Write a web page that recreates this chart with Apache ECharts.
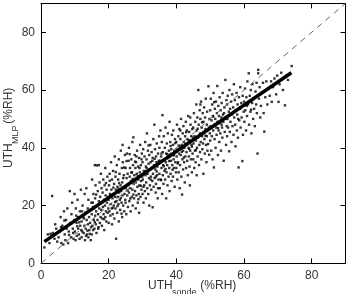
<!DOCTYPE html>
<html>
<head>
<meta charset="utf-8">
<script src="https://cdn.jsdelivr.net/npm/echarts@6/dist/echarts.min.js"></script>
<style>
  html, body { margin: 0; padding: 0; background: #fff; }
  #chart { width: 349px; height: 294px; }
</style>
</head>
<body>
<div id="chart"></div>
<script>
// UTH sonde (x) vs UTH MLP (y), %RH
const points = [
  [1,5.5],[1.5,8],[2,10],[2.5,7],[3,9.5],[3.3,23.3],[3.5,10.5],[4,8.5],[4.5,12],[4.8,7.5],[2.8,10.2],[4.2,13.5],
  [5.2,9],[5.5,11],[5.8,16],[6,7],[6.3,13],[6.6,6.5],[6.8,18],[7,10],[7.2,8],[7.4,15],[7.6,12],[7.8,19],[8,7],[8.2,11],[8.5,25],[8.7,14],[8.9,9],[9,17],[9.2,21],[9.4,12],[9.6,8.5],[9.8,15],[9.9,24],[5.9,12.5],[8.3,9.8],[6.9,14.8],[9.5,10.5],
  [10,11],[10.2,8],[10.3,19],[10.5,14],[10.6,9.5],[10.8,22],[11,12],[11,16],[11.2,10],[11.4,8.5],[11.5,18],[11.6,13],[11.8,25.5],[12,9],[12,14.5],[12.2,11],[12.3,20],[12.5,16],[12.6,10.5],[12.8,13],[12.9,24],[13,8],[13.1,17.5],[13.2,12],[13.4,26],[13.5,15],[13.6,10],[13.8,19],[13.9,13.5],[14,9],[14,22],[14.2,16],[14.3,11.5],[14.5,14],[14.6,18.5],[14.7,8],[14.8,12.5],[14.9,21],[10.7,12.8],[11.3,14.2],[12.1,18],[13.3,9.5],[13.7,11.3],[14.4,10.2],[11.9,11.5],[10.4,16.5],[12.7,15.5],
  [15,10],[15,17],[15.1,29],[15.2,13],[15.3,21],[15.4,11.5],[15.5,24],[15.6,15],[15.7,19],[15.8,12],[15.9,34],[16,16.5],[16,22.5],[16.1,27],[16.2,13.5],[16.3,18],[16.4,10.5],[16.5,33.9],[16.6,20],[16.7,15],[16.8,25],[16.9,17],[17,12.5],[17.1,34],[17.1,21.5],[17.2,19],[17.3,28],[17.4,14],[17.5,23],[17.6,16],[17.7,31],[17.8,18.5],[17.9,26],[18,13],[18,21],[18.1,15.5],[18.2,24.5],[18.3,19.5],[18.4,29],[18.5,17],[18.6,22],[18.7,11.5],[18.8,27],[18.9,20],[19,16],[19,33],[19.1,23.5],[19.2,18],[19.3,14.5],[19.4,25.5],[19.5,21],[19.6,30],[19.7,17.5],[19.8,23],[19.9,19],[15.9,14.2],[16.9,12],[18.6,15.3],[17.6,20.8],[19.2,27.8],[16.3,23.8],[15.4,19.5],
  [20,14],[20,22],[20.1,27],[20.2,18],[20.3,31],[20.4,24],[20.5,16.5],[20.6,20.5],[20.7,35],[20.8,25.5],[20.9,19],[21,29],[21,13.5],[21.1,22.5],[21.2,17],[21.3,32],[21.4,24],[21.5,20],[21.6,27.5],[21.7,15.5],[21.8,37],[21.9,23],[22,19],[22,30],[22.1,25.5],[22.2,8.5],[22.3,21.5],[22.4,34],[22.5,17.5],[22.6,26.5],[22.7,23],[22.8,29],[22.9,20.5],[23,14.5],[23,36],[23.1,24.5],[23.2,31],[23.3,22],[23.4,18.5],[23.5,27],[23.6,39],[23.7,25],[23.8,21],[23.9,33],[24,16],[24,28],[24.1,23.5],[24.2,35],[24.3,20],[24.4,26],[24.5,30.5],[24.6,18],[24.7,24],[24.8,37.5],[24.9,22],[20.6,23.7],[21.4,26.2],[22.6,19.8],[23.6,22.6],[24.3,29.5],[21.9,21.2],[23.1,27.8],[20.3,28.6],[22.9,25.8],[24.6,33.2],[21.2,19.2],[23.8,17.2],[22.1,31.6],[24.1,41],
  [25,21],[25,33],[25.1,26],[25.2,17],[25.3,29.5],[25.4,38],[25.5,23.5],[25.6,31],[25.7,19.5],[25.8,27],[25.9,35.5],[26,24.5],[26,40],[26.1,21.5],[26.2,30],[26.3,33],[26.4,26],[26.5,18],[26.6,28.5],[26.7,36],[26.8,23],[26.9,31.5],[27,25.5],[27,42],[27.1,20],[27.2,34],[27.3,43.6],[27.4,27.5],[27.5,22.5],[27.6,30.5],[27.7,37.5],[27.8,25],[27.9,33],[28,19],[28,28],[28.1,35],[28.2,23.5],[28.3,31],[28.4,39],[28.5,26.5],[28.6,21],[28.7,33.5],[28.8,29],[28.9,24],[29,36.5],[29,17.5],[29.1,27],[29.2,31.5],[29.3,41],[29.4,23],[29.5,34],[29.6,28.5],[29.7,25.5],[29.8,38],[29.9,30],[25.6,25.2],[26.7,31.4],[27.3,23.8],[28.2,37],[29.1,33],[26.2,37.8],[27.8,35.2],[28.8,22.2],[25.3,35.4],[29.5,26.8],[27.1,29.2],[28.6,30.2],[26.4,22.4],[29.7,36],
  [30,24],[30,35],[30.1,29],[30.2,39.5],[30.3,21],[30.4,32],[30.5,27],[30.6,37],[30.7,25],[30.8,42],[30.9,30.5],[31,33.5],[31,22.5],[31.1,28],[31.2,36],[31.3,45],[31.4,26],[31.5,31],[31.6,39],[31.7,24],[31.8,34.5],[31.9,29.5],[32,37.5],[32,20],[32.1,32.5],[32.2,27],[32.3,41],[32.4,35],[32.5,30],[32.6,25.5],[32.7,38.5],[32.8,33],[32.9,28.5],[33,19.4],[33,36.5],[33.1,31],[33.2,43],[33.3,26.5],[33.4,34],[33.5,48],[33.6,29.5],[33.7,39.5],[33.8,32.5],[33.9,24.5],[34,37],[34,27.5],[34.1,35],[34.2,41.5],[34.3,30.5],[34.4,33.5],[34.5,22.5],[34.6,38],[34.7,29],[34.8,35.5],[34.9,44],[31.2,33],[32.4,29],[33.6,36.2],[30.8,31.8],[34.2,31.8],[31.8,40.8],[32.9,35.5],[33.9,30],[30.3,26.5],[34.6,26],
  [35,31],[35,40],[35.1,26],[35.2,35.5],[35.3,46],[35.4,29],[35.5,37],[35.6,33],[35.7,42],[35.9,51.3],[35.8,24],[36,30.5],[36,38.5],[36.1,34],[36.2,27.5],[36.3,44],[36.4,36],[36.5,32],[36.6,40],[36.7,29],[36.8,47],[36.9,35],[37,22.5],[37,38],[37.1,31.5],[37.2,41.5],[37.3,34],[37.4,27],[37.5,45],[37.6,36.5],[37.7,30],[37.8,39],[37.9,33],[38,49],[38,25],[38.1,37],[38.2,42],[38.3,31],[38.4,35.5],[38.5,39.5],[38.6,28.5],[38.7,44.5],[38.8,34],[38.9,37.5],[39,30],[39,41],[39.1,46],[39.2,36],[39.3,33],[39.4,39],[39.5,26.5],[39.6,43],[39.7,35],[39.8,38.5],[39.9,31.5],[36.3,33.6],[37.3,37.8],[38.3,40.6],[39.3,37.4],[35.6,38],[36.8,32.6],[38.9,32.4],[37.9,35.4],[39.7,41.6],[35.5,28.8],
  [40,33],[40,42],[40.1,37],[40.2,48],[40.3,29],[40.4,39.5],[40.5,35],[40.6,44],[40.7,31.5],[40.8,38],[40.9,46.5],[41,26],[41,40.5],[41.1,34],[41.2,43],[41.3,37.5],[41.4,50],[41.5,30],[41.6,41],[41.7,23.8],[41.8,36],[41.9,45],[42,39],[42,32.5],[42.1,47.5],[42.2,42],[42.3,35],[42.4,40],[42.5,28],[42.6,44],[42.7,37],[42.8,49],[42.9,33],[43,41.5],[43,38.5],[43.1,46],[43.2,35.5],[43.3,43],[43.4,30.5],[43.5,51],[43.6,40],[43.7,37],[43.8,45.5],[43.9,33.5],[44,42.5],[44,27],[44.1,39],[44.2,48],[44.3,36],[44.4,44],[44.5,41],[44.6,31.5],[44.7,46.5],[44.8,38],[44.9,43.5],[40.7,40.8],[41.6,38.6],[42.6,41.2],[43.6,42.6],[44.6,40.4],[42.2,36.6],[43.8,39.6],[41.2,46],[44.1,50.5],[40.4,34.6],[42.9,45.4],
  [45,36],[45,47],[45.1,41.5],[45.2,52],[45.3,33],[45.4,44],[45.5,39],[45.6,49],[45.7,35],[45.8,42.5],[45.9,55],[46,30.5],[46,46],[46.1,40],[46.2,50.5],[46.3,37],[46.4,43.5],[46.5,60],[46.6,48],[46.7,34],[46.8,41],[46.9,53],[47,38.5],[47,45],[47.1,50],[47.2,42],[47.3,56],[47.4,36],[47.5,47],[47.6,44],[47.7,39.5],[47.8,52],[47.9,41.5],[48,49],[48,31],[48.1,45.5],[48.2,54],[48.3,43],[48.4,38],[48.5,50.5],[48.6,46.5],[48.7,57],[48.8,41],[48.9,35],[49,48],[49,44],[49.1,52.5],[49.2,39],[49.4,41.3],[49.5,61.3],[49.6,47],[49.7,37.6],[49.8,50],[49.9,45],[46.3,46.6],[47.6,48.8],[48.6,44.2],[45.8,39.2],[47.1,55],
  [50,42.5],[50,53],[50.1,47.5],[50.2,57],[50.3,39],[50.4,49.5],[50.5,44],[50.6,55],[50.7,36],[50.8,51],[50.9,46],[51,59],[51.1,33.2],[51.2,48],[51.3,43],[51.4,53.5],[51.5,50],[51.6,40],[51.7,56],[51.8,47],[51.9,44.5],[52,52],[52.1,61.4],[52.2,49],[52.3,37.5],[52.4,54.5],[52.5,46],[52.6,51],[52.7,42],[52.8,57.5],[52.9,48.5],[53,45],[53.1,53],[53.2,39],[53.3,50.5],[53.4,55.5],[53.5,47],[53.6,43.5],[53.7,59],[53.8,51.5],[53.9,49],[54,35.5],[54.2,54],[54.3,45.5],[54.5,63.5],[54.6,50],[54.7,41],[54.8,56.5],[54.9,47.5],[50.9,50.8],[52.3,46.8],[53.4,48],[54.1,52],[51.2,55.8],
  [55,44],[55,55],[55.1,50],[55.2,58],[55.3,47],[55.6,38.8],[55.5,52.5],[55.7,60],[55.8,45.5],[55.9,53.5],[56,49],[56.2,56],[56.3,42],[56.4,51.5],[56.5,58.5],[56.6,47.5],[56.8,54],[56.9,44.5],[57,62],[57.1,50.5],[57.3,56.5],[57.4,48],[57.5,40.5],[57.6,53],[57.8,59],[57.9,46],[58,51.5],[58.1,55],[58.2,43.5],[58.4,33.2],[58.5,57.5],[58.6,49.5],[58.8,53.5],[58.9,61],[59,47],[59.2,55.5],[59.3,50.5],[59.5,35.4],[59.6,58],[59.7,44.5],[59.9,52.5],[56.7,52],[58.3,50],
  [60,56],[60.1,49],[60.3,60.5],[60.4,53],[60.6,46],[60.7,57.5],[60.9,51],[61,63],[61.2,55],[61.4,65.8],[61.5,48],[61.7,58],[61.9,52.5],[62,60],[62.2,45],[62.4,55.5],[62.5,62],[62.7,50],[62.9,57],[63,53.5],[63.2,47.5],[63.4,59.5],[63.6,55],[63.8,52],[64,38],[64.2,65.8],[64.2,67],[64.4,57],[64.6,61],[64.8,50.5],[60.8,54.5],[62.1,53.2],[63.7,62.5],
  [65,54.5],[65.3,59],[65.6,62.5],[65.8,52],[66,45.6],[66.3,57.5],[66.6,63],[66.9,55],[67.2,60.5],[67.6,58],[68,63],[68.2,55.9],[68.6,61],[69,64],[69.5,58.5],[70.2,55.9],[69.8,65],
  [70.5,62],[71,66],[71.5,60],[72.1,54.7],[72.5,65],[73,63.5],[74.1,68.3]
];

// 1:1 reference and the fitted regression line (endpoints)
const oneToOne = [[0, 0], [90, 90]];
const fitLine = [[1, 7.5], [74, 66]];

const xTitle = ['UTH', 'sonde', ' (%RH)'];
const yTitle = ['UTH', 'MLP', ' (%RH)'];

const FONT = 'Liberation Sans, Arial, sans-serif';
const INK = '#000';
const LABEL = '#333';

const chart = echarts.init(document.getElementById('chart'), null, { renderer: 'canvas' });

function frameAxis(position, show) {
  return {
    type: 'value', min: 0, max: 90, interval: 20, position,
    axisLine: { show: true, onZero: false, lineStyle: { color: INK, width: 1 } },
    axisTick: { show: true, inside: true, length: 5, lineStyle: { color: INK } },
    axisLabel: { show, color: LABEL, fontFamily: FONT, fontSize: 12, margin: 6,
      formatter: (v) => (v > 85 ? '' : v) },
    splitLine: { show: false }
  };
}

chart.setOption({
  animation: false,
  backgroundColor: '#fff',
  grid: { left: 41, right: 3.5, top: 3.4, bottom: 30.7 },
  xAxis: [frameAxis('bottom', true), frameAxis('top', false)],
  yAxis: [frameAxis('left', true), frameAxis('right', false)],
  series: [
    {
      type: 'line', data: oneToOne, symbol: 'none', silent: true,
      lineStyle: { color: '#666', width: 1, type: [6, 5] }
    },
    {
      type: 'scatter', data: points, symbol: 'rect', symbolSize: 2.4,
      itemStyle: { color: '#000' }
    },
    {
      type: 'line', data: fitLine, symbol: 'none', silent: true,
      lineStyle: { color: INK, width: 3.5, cap: 'butt' }
    }
  ],
  graphic: [
    {
      type: 'group', left: 148, top: 280,
      children: [
        { type: 'text', x: 0, y: 0, style: { text: xTitle[0], font: '12px ' + FONT, fill: LABEL } },
        { type: 'text', x: 24, y: 8, style: { text: xTitle[1], font: '9px ' + FONT, fill: LABEL } },
        { type: 'text', x: 49, y: 0, style: { text: xTitle[2], font: '12px ' + FONT, fill: LABEL } }
      ]
    },
    {
      type: 'group', x: 3, y: 168, rotation: Math.PI / 2,
      children: [
        { type: 'text', x: 0, y: 0, style: { text: yTitle[0], font: '12px ' + FONT, fill: LABEL } },
        { type: 'text', x: 24, y: 8, style: { text: yTitle[1], font: '9px ' + FONT, fill: LABEL } },
        { type: 'text', x: 41, y: 0, style: { text: yTitle[2], font: '12px ' + FONT, fill: LABEL } }
      ]
    }
  ]
});
</script>
</body>
</html>
